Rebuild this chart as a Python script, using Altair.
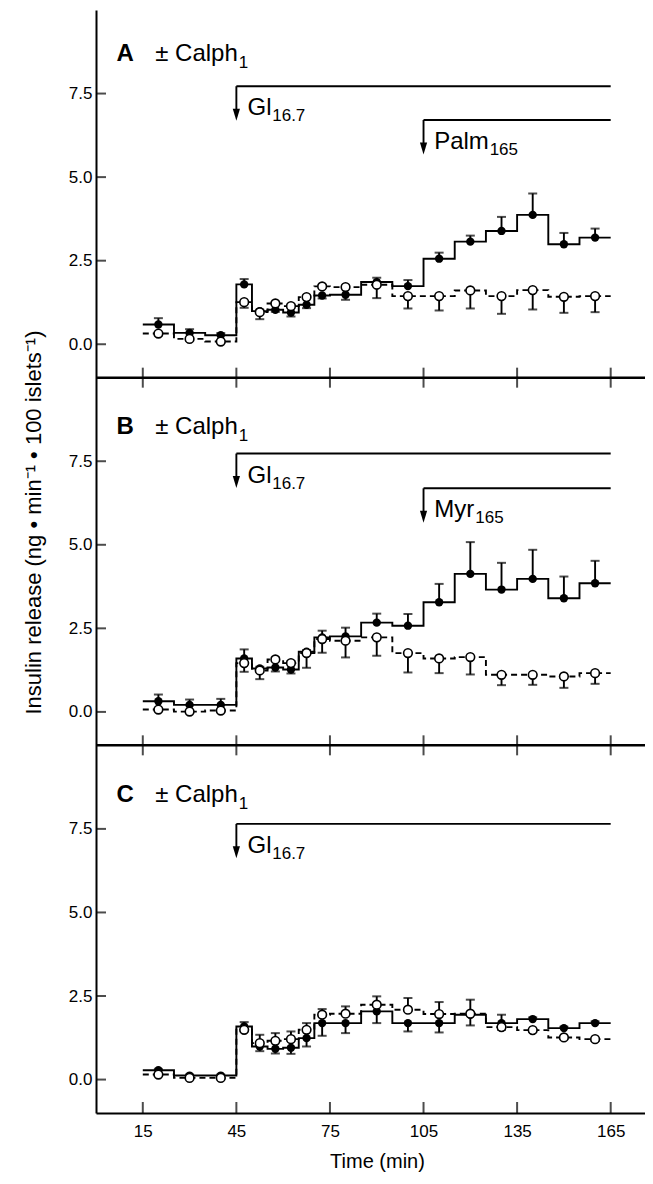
import altair as alt
import pandas as pd

# ---------------- data ----------------
TIMES = [20, 30, 40, 47.5, 52.5, 57.5, 62.5, 67.5, 72.5, 80, 90, 100, 110, 120, 130, 140, 150, 160]
EDGES = [15, 25, 35, 45, 50, 55, 60, 65, 70, 75, 85, 95, 105, 115, 125, 135, 145, 155, 165]

A_SOLID = [0.59, 0.34, 0.27, 1.79, 0.99, 1.03, 0.95, 1.18, 1.46, 1.48, 1.86, 1.74, 2.56, 3.07, 3.39, 3.87, 2.99, 3.19]
A_SOLID_SEM = [0.19, 0.11, 0.06, 0.16, 0.04, 0.06, 0.12, 0.10, 0.09, 0.15, 0.13, 0.18, 0.18, 0.18, 0.42, 0.64, 0.34, 0.27]
A_OPEN = [0.32, 0.16, 0.08, 1.26, 0.96, 1.22, 1.14, 1.41, 1.73, 1.71, 1.78, 1.44, 1.44, 1.61, 1.44, 1.62, 1.42, 1.44]
A_OPEN_SEM = [0.06, 0.05, 0.03, 0.17, 0.21, 0.05, 0.05, 0.05, 0.05, 0.05, 0.40, 0.37, 0.43, 0.54, 0.53, 0.58, 0.48, 0.48]

B_SOLID = [0.32, 0.21, 0.21, 1.60, 1.30, 1.33, 1.27, 1.80, 2.23, 2.26, 2.67, 2.58, 3.28, 4.13, 3.66, 3.98, 3.40, 3.85]
B_SOLID_SEM = [0.20, 0.16, 0.18, 0.27, 0.05, 0.12, 0.12, 0.05, 0.20, 0.26, 0.27, 0.35, 0.55, 0.95, 0.80, 0.87, 0.65, 0.67]
B_OPEN = [0.07, 0.01, 0.04, 1.46, 1.24, 1.57, 1.46, 1.76, 2.18, 2.13, 2.23, 1.76, 1.60, 1.64, 1.11, 1.11, 1.06, 1.16]
B_OPEN_SEM = [0.05, 0.05, 0.05, 0.26, 0.26, 0.06, 0.06, 0.44, 0.41, 0.50, 0.55, 0.58, 0.44, 0.52, 0.31, 0.30, 0.34, 0.32]

C_SOLID = [0.28, 0.12, 0.12, 1.59, 0.99, 0.92, 0.95, 1.24, 1.69, 1.69, 2.04, 1.69, 1.69, 1.94, 1.69, 1.81, 1.54, 1.69]
C_SOLID_SEM = [0.03, 0.03, 0.03, 0.13, 0.14, 0.14, 0.18, 0.25, 0.38, 0.30, 0.35, 0.25, 0.28, 0.32, 0.25, 0.05, 0.04, 0.05]
C_OPEN = [0.15, 0.05, 0.05, 1.49, 1.09, 1.16, 1.21, 1.49, 1.94, 1.97, 2.24, 2.09, 1.96, 1.97, 1.57, 1.48, 1.26, 1.21]
C_OPEN_SEM = [0.04, 0.03, 0.03, 0.05, 0.25, 0.23, 0.23, 0.20, 0.17, 0.22, 0.25, 0.35, 0.36, 0.42, 0.08, 0.06, 0.05, 0.05]

PANELS = ["A", "B", "C"]
PANEL_OFFSET = [22, 11, 0]          # stacking offset of each panel on the shared y scale
Y_TICKS = [0, 2.5, 5, 7.5]
X_TICKS = [15, 45, 75, 105, 135, 165]

LETTER_LEVEL = [8.47, 8.30, 8.30]
GLUC_TIME = 45
GLUC_BAR = [7.72, 7.73, 7.65]
FA_TIME = 105
FA_BAR = [6.71, 6.69, None]
FA_NAME = ["Palm", "Myr", None]
BAR_END = 165
ARROW_LEN = 1.03
TREAT_LABEL = "\u00b1 Calph"

SERIES = {
    "A": (A_SOLID, A_SOLID_SEM, A_OPEN, A_OPEN_SEM),
    "B": (B_SOLID, B_SOLID_SEM, B_OPEN, B_OPEN_SEM),
    "C": (C_SOLID, C_SOLID_SEM, C_OPEN, C_OPEN_SEM),
}

# ---------------- tables ----------------
pts, steps = [], []
for p, off in zip(PANELS, PANEL_OFFSET):
    s, ss, o, os_ = SERIES[p]
    for i, t in enumerate(TIMES):
        s_up = s[i] >= o[i]
        pts.append(dict(panel=p, series="solid", t=t, y=s[i] + off,
                        yerr=s[i] + off + (ss[i] if s_up else -ss[i])))
        pts.append(dict(panel=p, series="open", t=t, y=o[i] + off,
                        yerr=o[i] + off + (-os_[i] if s_up else os_[i])))
    for name, vals in (("solid", s), ("open", o)):
        for i, e in enumerate(EDGES):
            v = vals[min(i, len(vals) - 1)]
            steps.append(dict(panel=p, series=name, t=e, y=v + off))
pts = pd.DataFrame(pts)
steps = pd.DataFrame(steps)

MAIN_FS, SUB_FS = 24, 17
bars, vlines, heads, texts, subs = [], [], [], [], []
for k, (p, off) in enumerate(zip(PANELS, PANEL_OFFSET)):
    arrows = [(GLUC_TIME, GLUC_BAR[k], "Gl", "16.7", 48.6, 7.9)]
    if FA_BAR[k] is not None:
        arrows.append((FA_TIME, FA_BAR[k], FA_NAME[k], "165", 108.4,
                       17.8 if FA_NAME[k] == "Palm" else 13.2))
    for (t0, lev, lab, sub, tx, w) in arrows:
        bars.append(dict(t=t0, t2=BAR_END, y=lev + off))
        vlines.append(dict(t=t0, y=lev + off, y2=lev - ARROW_LEN + off + 0.2))
        heads.append(dict(t=t0, y=lev - ARROW_LEN + off))
        texts.append(dict(t=tx, y=lev - 0.87 + off, text=lab, w="normal"))
        subs.append(dict(t=tx + w, y=lev - 1.05 + off, text=sub))
    lv = LETTER_LEVEL[k]
    texts.append(dict(t=6.6, y=lv + off, text=p, w="bold"))
    texts.append(dict(t=19.0, y=lv + off, text=TREAT_LABEL, w="normal"))
    subs.append(dict(t=45.8, y=lv - 0.2 + off, text="1"))
bars = pd.DataFrame(bars)
vlines = pd.DataFrame(vlines)
heads = pd.DataFrame(heads)
texts = pd.DataFrame(texts)
subs = pd.DataFrame(subs)

ytick_vals = [v + off for off in PANEL_OFFSET for v in Y_TICKS]
yticks = pd.DataFrame(dict(t=[0] * len(ytick_vals), y=ytick_vals))
bounds = [off - 1 for off in PANEL_OFFSET if off > 0]
seps = pd.DataFrame(dict(y=bounds))
xt_mid = pd.DataFrame([dict(t=t, y=b) for b in bounds for t in X_TICKS])
xt_bot = pd.DataFrame([dict(t=t, y=-1) for t in X_TICKS])

# ---------------- encodings ----------------
FONT = "Liberation Sans"
XS = alt.Scale(domain=[0, 176], nice=False, zero=False)
YS = alt.Scale(domain=[-1, 32], nice=False, zero=False)
XAX = alt.Axis(values=X_TICKS, ticks=False, grid=False, domainWidth=2, domainColor="black",
               labelFont=FONT, labelFontSize=17, labelColor="black", labelPadding=10,
               title="Time (min)", titleFont=FONT, titleFontSize=20, titleFontWeight="normal",
               titleColor="black", titlePadding=12, titleX=281)
YAX = alt.Axis(values=ytick_vals, labelExpr="format(datum.value % 11, '.1f')", ticks=False,
               grid=False, domainWidth=2, domainColor="black", labelFont=FONT, labelFontSize=17,
               labelColor="black", labelPadding=4,
               title="Insulin release (ng \u2022 min\u207b\u00b9 \u2022 100 islets\u207b\u00b9)",
               titleFont=FONT, titleFontSize=22, titleFontWeight="normal", titleColor="black",
               titleX=-51, titleY=512, titleAngle=-90, titleBaseline="bottom")


def X(f="t"):
    return alt.X(f"{f}:Q", scale=XS, axis=XAX)


def Y(f="y"):
    return alt.Y(f"{f}:Q", scale=YS, axis=YAX)


LW = 1.9

solid_line = alt.Chart(steps).transform_filter("datum.series == 'solid'").mark_line(
    interpolate="step-after", color="black", strokeWidth=LW).encode(x=X(), y=Y(), detail="panel:N")
open_line = alt.Chart(steps).transform_filter("datum.series == 'open'").mark_line(
    interpolate="step-after", color="black", strokeWidth=LW, strokeDash=[6, 4]).encode(
    x=X(), y=Y(), detail="panel:N")

err = alt.Chart(pts).mark_rule(color="black", strokeWidth=LW).encode(
    x=X(), y=Y(), y2=alt.Y2("yerr:Q"))
cap = alt.Chart(pts).mark_tick(color="black", orient="horizontal", size=9, thickness=2).encode(
    x=X(), y=Y("yerr"))

solid_pts = alt.Chart(pts).transform_filter("datum.series == 'solid'").mark_point(
    shape="circle", filled=True, color="black", size=70, opacity=1).encode(x=X(), y=Y())
open_pts = alt.Chart(pts).transform_filter("datum.series == 'open'").mark_point(
    shape="circle", filled=True, fill="white", stroke="black", strokeWidth=1.6, size=75,
    opacity=1).encode(x=X(), y=Y())

sep = alt.Chart(seps).mark_rule(color="black", strokeWidth=2.5).encode(y=Y())
xtm = alt.Chart(xt_mid).mark_tick(color="black", orient="vertical", size=20, thickness=2).encode(
    x=X(), y=Y())
xtb = alt.Chart(xt_bot).mark_tick(color="black", orient="vertical", size=11, thickness=2,
                                  yOffset=-5.5).encode(x=X(), y=Y())
ytk = alt.Chart(yticks).mark_tick(color="black", orient="horizontal", size=10, thickness=2,
                                  xOffset=5).encode(x=X(), y=Y())

bar_l = alt.Chart(bars).mark_rule(color="black", strokeWidth=LW).encode(
    x=X(), x2=alt.X2("t2:Q"), y=Y())
vl = alt.Chart(vlines).mark_rule(color="black", strokeWidth=LW).encode(
    x=X(), y=Y(), y2=alt.Y2("y2:Q"))
hd = alt.Chart(heads).mark_point(shape="M-0.6,-1L0.6,-1L0,1Z", filled=True, color="black",
                                 size=144, opacity=1, yOffset=-6).encode(x=X(), y=Y())

txt_n = alt.Chart(texts).transform_filter("datum.w == 'normal'").mark_text(
    align="left", baseline="alphabetic", font=FONT, fontSize=MAIN_FS, color="black").encode(
    x=X(), y=Y(), text="text:N")
txt_b = alt.Chart(texts).transform_filter("datum.w == 'bold'").mark_text(
    align="left", baseline="alphabetic", font=FONT, fontSize=MAIN_FS, fontWeight="bold",
    color="black").encode(x=X(), y=Y(), text="text:N")
txt_s = alt.Chart(subs).mark_text(
    align="left", baseline="alphabetic", font=FONT, fontSize=SUB_FS, color="black").encode(
    x=X(), y=Y(), text="text:N")

chart = alt.layer(
    sep, xtm, xtb, ytk, bar_l, vl, hd,
    solid_line, open_line, err, cap, solid_pts, open_pts,
    txt_n, txt_b, txt_s,
).properties(
    width=549, height=1103,
    padding={"left": 88, "top": 2, "right": 0, "bottom": 63},
    autosize=alt.AutoSizeParams(type="none"),
).configure_view(stroke=None)

chart.save("out.html", embed_options={"renderer": "svg", "actions": False})
